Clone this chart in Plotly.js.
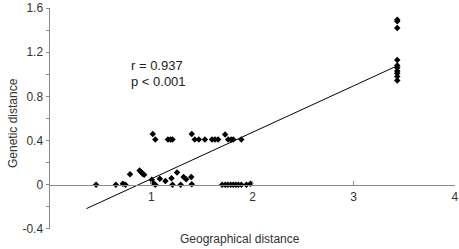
<!DOCTYPE html>
<html><head><meta charset="utf-8">
<script src="https://cdn.plot.ly/plotly-3.0.1.min.js"></script>
<style>html,body{margin:0;padding:0;background:#fff;}#chart{width:459px;height:249px;}</style>
</head><body><div id="chart"></div>
<script>
// Observed pairs (geographical distance, genetic distance)
const geoDistance = [
  0.455, 0.65, 0.72, 0.745, 0.79, 0.885, 0.90, 0.915, 0.93, 1.005, 1.02, 1.04,
  1.085, 1.14, 1.20, 1.21, 1.255, 1.29, 1.32, 1.345, 1.395, 1.40,
  1.015, 1.04, 1.165, 1.19, 1.21, 1.40, 1.43, 1.47, 1.53, 1.60, 1.63, 1.66,
  1.73, 1.76, 1.79, 1.81, 1.89,
  1.70, 1.73, 1.755, 1.785, 1.81, 1.835, 1.86, 1.89, 1.94, 1.98,
  3.43, 3.43, 3.43, 3.43, 3.43, 3.43, 3.43, 3.43, 3.43, 3.43
];
const genDistance = [
  0, 0, 0.01, 0, 0.095, 0.13, 0.115, 0.10, 0.09, 0.045, 0.015, 0,
  0.055, 0.035, 0.06, 0, 0.11, 0, 0.07, 0.05, 0.07, 0.005,
  0.46, 0.41, 0.41, 0.41, 0.41, 0.46, 0.41, 0.41, 0.41, 0.41, 0.41, 0.41,
  0.455, 0.41, 0.41, 0.41, 0.41,
  0, 0, 0, 0, 0, 0, 0, 0, 0, 0.01,
  1.495, 1.48, 1.42, 1.13, 1.08, 1.06, 1.03, 1.01, 0.98, 0.945
];
// Regression line endpoints
const fitX = [0.36, 3.42];
const fitY = [-0.216, 1.073];
// Tick labels
const xTickVals = [1, 2, 3, 4];
const xTickText = ['1', '2', '3', '4'];
const yTickVals = [-0.4, 0, 0.4, 0.8, 1.2, 1.6];
const yTickText = ['-0.4', '0', '0.4', '0.8', '1.2', '1.6'];
const statText = ['r = 0.937', 'p < 0.001'];

const font = 'Liberation Sans, Arial, sans-serif';
const axisGray = '#8a8a8a';

const M = {l: 50, r: 4, t: 8, b: 20};
const PW = 459 - M.l - M.r, PH = 249 - M.t - M.b;
const px = (x) => (x - M.l) / PW;
const py = (y) => 1 - (y - M.t) / PH;

const traces = [
  {x: fitX, y: fitY, mode: 'lines', type: 'scatter',
   line: {color: '#000', width: 1}, hoverinfo: 'skip', cliponaxis: false},
  {x: geoDistance, y: genDistance, mode: 'markers', type: 'scatter',
   marker: {symbol: 'diamond', size: 5, color: '#000'}, cliponaxis: false}
];

const layout = {
  width: 459, height: 249,
  margin: M,
  paper_bgcolor: '#fff', plot_bgcolor: '#fff',
  showlegend: false,
  font: {family: font, size: 12, color: '#333'},
  xaxis: {
    range: [0, 4.0005], anchor: 'free', position: 0.2,
    showgrid: false, zeroline: false,
    showline: true, linecolor: axisGray, linewidth: 1.5,
    tickvals: xTickVals, ticktext: xTickText,
    ticks: 'inside', ticklen: 4, tickcolor: axisGray, tickwidth: 1,
    ticklabeloverflow: 'allow',
    tickfont: {family: font, size: 12, color: '#333'}
  },
  yaxis: {
    range: [-0.4005, 1.6005],
    showgrid: false, zeroline: false,
    showline: true, linecolor: axisGray, linewidth: 1.5,
    tickvals: yTickVals, ticktext: yTickText,
    ticks: 'outside', ticklen: 3, tickcolor: axisGray, tickwidth: 1,
    ticklabeloverflow: 'allow',
    minor: {tick0: 0, dtick: 0.2, ticks: 'outside', ticklen: 3, tickcolor: axisGray, showgrid: false},
    tickfont: {family: font, size: 12, color: '#333'}
  },
  annotations: [
    {xref: 'paper', yref: 'paper', x: px(129), y: py(65),
     text: statText[0], showarrow: false, xanchor: 'left', yanchor: 'middle',
     font: {family: font, size: 13, color: '#222'}},
    {xref: 'paper', yref: 'paper', x: px(129), y: py(82),
     text: statText[1], showarrow: false, xanchor: 'left', yanchor: 'middle',
     font: {family: font, size: 13, color: '#222'}},
    {xref: 'paper', yref: 'paper', x: px(240), y: py(239),
     text: 'Geographical distance', showarrow: false, xanchor: 'center', yanchor: 'middle',
     font: {family: font, size: 12, color: '#333'}},
    {xref: 'paper', yref: 'paper', x: px(13), y: py(123),
     text: 'Genetic distance', showarrow: false, textangle: -90, xanchor: 'center', yanchor: 'middle',
     font: {family: font, size: 12, color: '#333'}}
  ]
};

Plotly.newPlot('chart', traces, layout, {staticPlot: true, displayModeBar: false});
</script>
</body></html>
